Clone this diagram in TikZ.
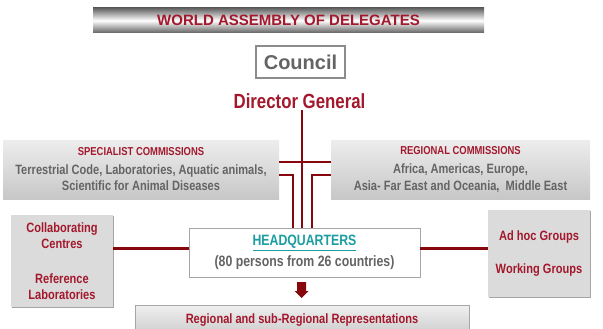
\documentclass[tikz,border=0pt]{standalone}
\usepackage{fontspec}
\setmainfont{Liberation Sans}
\newfontfamily\narrowfont{Liberation Sans}[FakeStretch=0.82]
\usetikzlibrary{shadows}
\definecolor{oiered}{RGB}{163,24,44}
\definecolor{oieline}{RGB}{135,8,12}
\definecolor{oiegray}{RGB}{100,100,100}
\definecolor{oieteal}{RGB}{28,158,160}

\begin{document}
\begin{tikzpicture}[x=1pt,y=1pt,yscale=-1,xscale=1,
  conn/.style={draw=oieline, line width=2.2pt},
  boxshadow/.style={drop shadow={shadow xshift=1.2pt, shadow yshift=-1.2pt, fill=black, opacity=0.35}},
  titlebar/.style={top color=black!62, bottom color=black!62, middle color=white, minimum width=391pt, minimum height=25pt, inner sep=0pt, text=oiered, font=\bfseries\fontsize{15}{18}\selectfont},
  councilbox/.style={draw=black!45, line width=1.3pt, fill=white, boxshadow, minimum width=89pt, minimum height=32pt, inner sep=0pt, text=oiegray, font=\bfseries\fontsize{20}{24}\selectfont},
  commbox/.style={top color=black!7, bottom color=black!22, minimum width=#1, minimum height=59pt, inner sep=0pt, align=center, text=oiegray, font=\narrowfont\bfseries\fontsize{13.5}{16.3}\selectfont},
  sidebox/.style={fill=black!14, boxshadow, minimum width=102pt, minimum height=#1, inner sep=0pt, align=center, text=oiered, font=\narrowfont\bfseries\fontsize{13.5}{16}\selectfont},
  hqbox/.style={draw=black!35, line width=0.8pt, fill=white, boxshadow, minimum width=231pt, minimum height=49pt, inner sep=0pt, align=center, text=oiegray, font=\narrowfont\bfseries\fontsize{15}{21}\selectfont},
  reprbox/.style={draw=black!35, line width=0.8pt, top color=black!6, bottom color=black!20, minimum width=334pt, minimum height=30pt, inner sep=0pt, text=oiered, font=\narrowfont\bfseries\fontsize{13.5}{16}\selectfont}
]
\useasboundingbox (0,0) rectangle (603,329);

% Boxes
\node [titlebar] (wad) at (288.5,20.5) {WORLD ASSEMBLY OF DELEGATES};
\node [councilbox] (council) at (300.5,62) {Council};
\node [text=oiered, inner sep=1pt, font=\narrowfont\bfseries\fontsize{20.5}{24}\selectfont] (dg) at (299.5,101.5) {Director General};
\node [commbox=276pt] (spec) at (141,169.5) {{\color{oiered}\fontsize{11.5}{14}\selectfont SPECIALIST COMMISSIONS}\\[2.5pt]Terrestrial Code, Laboratories, Aquatic animals,\\Scientific for Animal Diseases};
\node [commbox=259pt] (reg) at (460.5,169.5) {{\color{oiered}\fontsize{11.5}{14}\selectfont REGIONAL COMMISSIONS}\\[2.5pt]Africa, Americas, Europe,\\Asia- Far East and Oceania,\ \ Middle East};
\node [hqbox] (hq) at (304.5,252.5) {{\color{oieteal}\underline{HEADQUARTERS}}\\(80 persons from 26 countries)};
\node [sidebox=92pt] (collab) at (62,261) {Collaborating\\Centres\\[19pt]Reference\\Laboratories};
\node [sidebox=87pt] (adhoc) at (539,253.5) {Ad hoc Groups\\[17pt]Working Groups};
\node [reprbox] (repr) at (302,320) {Regional and sub-Regional Representations};

% Connectors
\coordinate (axis) at (302,0);
\coordinate (cross) at (0,162);
\coordinate (brk) at (0,175);
\coordinate (legL) at (293,0);
\coordinate (legR) at (312,0);
\coordinate (side) at (0,248.5);
\draw [conn] (axis |- dg.south) -- (axis |- hq.north);
\draw [conn] (spec.east |- cross) -- (reg.west |- cross);
\draw [conn] (spec.east |- brk) -| (legL |- hq.north);
\draw [conn] (reg.west |- brk) -| (legR |- hq.north);
\draw [conn] (collab.east |- side) -- (hq.west |- side);
\draw [conn] (hq.east |- side) -- (adhoc.west |- side);

% Block arrow
\fill [oieline] (297,282) -- (306,282) -- (306,291) -- (308.5,291) -- (301.5,298) -- (294.5,291) -- (297,291) -- cycle;
\end{tikzpicture}
\end{document}
